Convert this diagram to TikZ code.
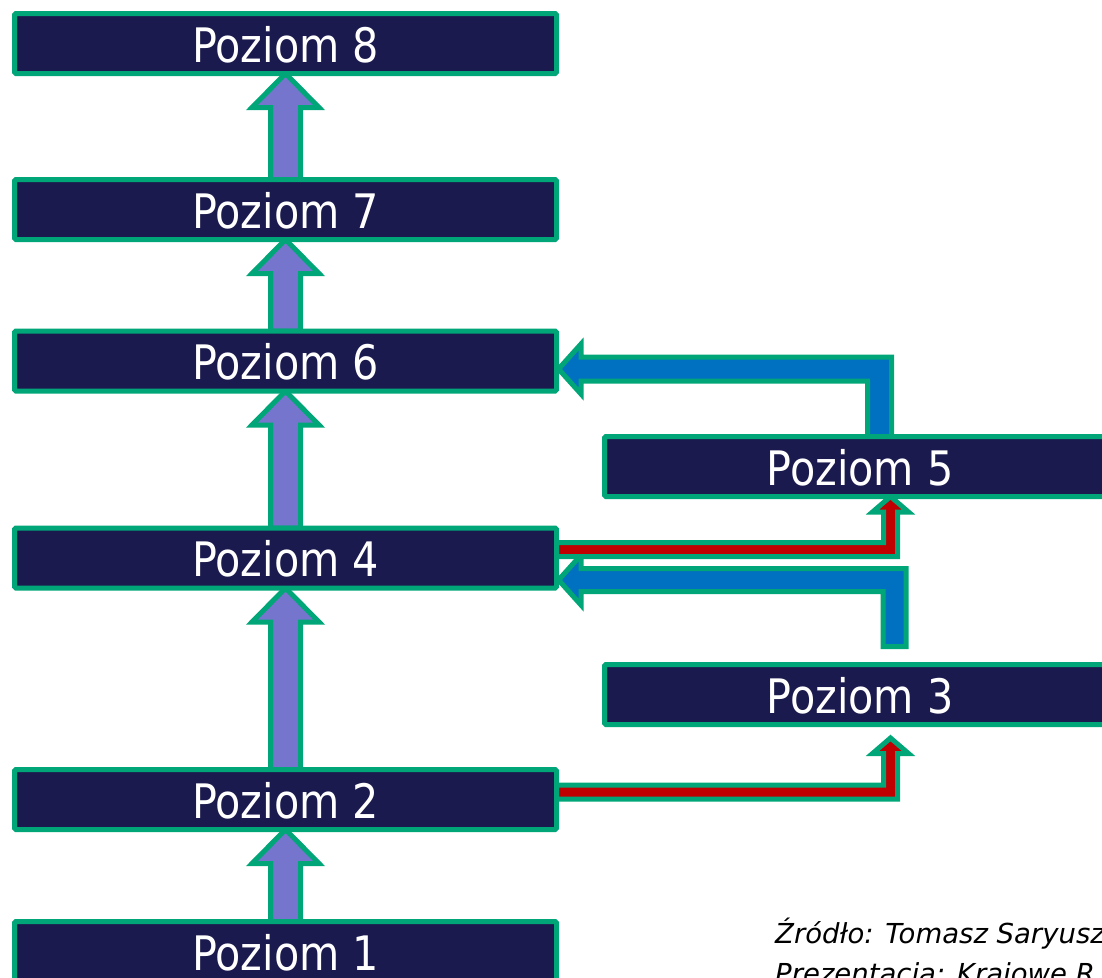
\documentclass[tikz,border=0pt]{standalone}
\usepackage{fontspec}
\setmainfont{DejaVu Sans}[FakeStretch=0.87]
\newfontfamily\footfont{DejaVu Sans}
\usetikzlibrary{calc,backgrounds}
\definecolor{navy}{RGB}{27,26,78}
\definecolor{mint}{RGB}{0,166,120}
\definecolor{lav}{RGB}{117,117,205}
\definecolor{azure}{RGB}{0,112,192}
\definecolor{crimson}{RGB}{192,0,0}
\newcommand{\blockup}[2]{% #1 lower node, #2 upper node
  \draw[pa] (#2.south) -- ++(33.5,34) -- ++(-18.5,0) -- ($(#1.north)+(15,0)$)
    -- ($(#1.north)+(-15,0)$) -- ($(#2.south)+(-15,34)$) -- ++(-18.5,0) -- cycle;}
\newcommand{\blockleft}[4]{% #1 style, #2 tip, #3 foot, #4 half width
  \draw[#1] (#2) -- ++(22.5,-25) -- ++(0,25-#4) -- ($(#3|-#2)+(#4,-#4)$)
    -- ($(#3)+(#4,0)$) -- ($(#3)+(-#4,0)$) -- ($(#3|-#2)+(-#4,#4)$)
    -- ($(#2)+(22.5,#4)$) -- ++(0,25-#4) -- cycle;}
\newcommand{\blockrightup}[2]{% #1 start, #2 tip
  \draw[ra] ($(#1)+(0,-7)$) -- ($(#2|-#1)+(-7,-7)$) -- ($(#2)+(-7,15.5)$)
    -- ($(#2)+(-18,15.5)$) -- (#2) -- ($(#2)+(18,15.5)$) -- ($(#2)+(7,15.5)$)
    -- ($(#2|-#1)+(7,7)$) -- ($(#1)+(0,7)$) -- cycle;}
\begin{document}
\begin{tikzpicture}[x=1pt,y=-1pt,
  box/.style={draw=mint,fill=navy,line width=5pt,rounded corners=1.5pt,
    minimum height=60pt,inner sep=0pt,outer sep=0pt,text=white,
    font=\fontsize{47.5}{56}\selectfont,text height=37pt,text depth=0pt},
  lbox/.style={box,minimum width=542pt},
  rbox/.style={box,minimum width=511pt},
  pa/.style={draw=mint,fill=lav,line width=5pt,line join=miter,miter limit=10},
  ba/.style={draw=mint,fill=azure,line width=5pt,line join=miter,miter limit=10},
  ra/.style={draw=mint,fill=crimson,line width=5pt,line join=miter,miter limit=10},
  foot/.style={anchor=base west,inner sep=0pt,font=\footfont\fontsize{27.5}{40}\selectfont\itshape}]
\useasboundingbox (0,0) rectangle (1102,977);
\clip (0,0) rectangle (1102,977);
\node[lbox] (p8) at (285.5,43.5) {Poziom 8};
\node[lbox] (p7) at (285.5,209.5) {Poziom 7};
\node[lbox] (p6) at (285.5,361) {Poziom 6};
\node[lbox] (p4) at (285.5,558) {Poziom 4};
\node[lbox] (p2) at (285.5,799.5) {Poziom 2};
\node[lbox] (p1) at (285.5,951.5) {Poziom 1};
\node[rbox] (p5) at (860,466.5) {Poziom 5};
\node[rbox] (p3) at (860,694.5) {Poziom 3};
\node[foot] (f1) at (775,943) {Źródło: Tomasz Saryusz};
\node[foot] (f2) at (775,983) {Prezentacja: Krajowe R};
\coordinate (tipsix) at ($(p6.east)+(2,8)$);
\coordinate (footfive) at ($(p5.north)+(19.5,0)$);
\coordinate (tipfour) at ($(p4.east)+(2,22)$);
\coordinate (footthree) at ($(p3.north)+(34.5,-18)$);
\coordinate (startfour) at ($(p4.east)+(0,-8.5)$);
\coordinate (tipfive) at ($(p5.south)+(30.5,0)$);
\coordinate (starttwo) at ($(p2.east)+(0,-7.5)$);
\coordinate (tipthree) at ($(p3.south)+(30.5,13.5)$);
\begin{scope}[on background layer]
  \blockup{p7}{p8}
  \blockup{p6}{p7}
  \blockup{p4}{p6}
  \blockup{p2}{p4}
  \blockup{p1}{p2}
  \blockleft{ba}{tipsix}{footfive}{12}
  \blockleft{ba}{tipfour}{footthree}{11.5}
  \blockrightup{startfour}{tipfive}
  \blockrightup{starttwo}{tipthree}
\end{scope}
\end{tikzpicture}
\end{document}
